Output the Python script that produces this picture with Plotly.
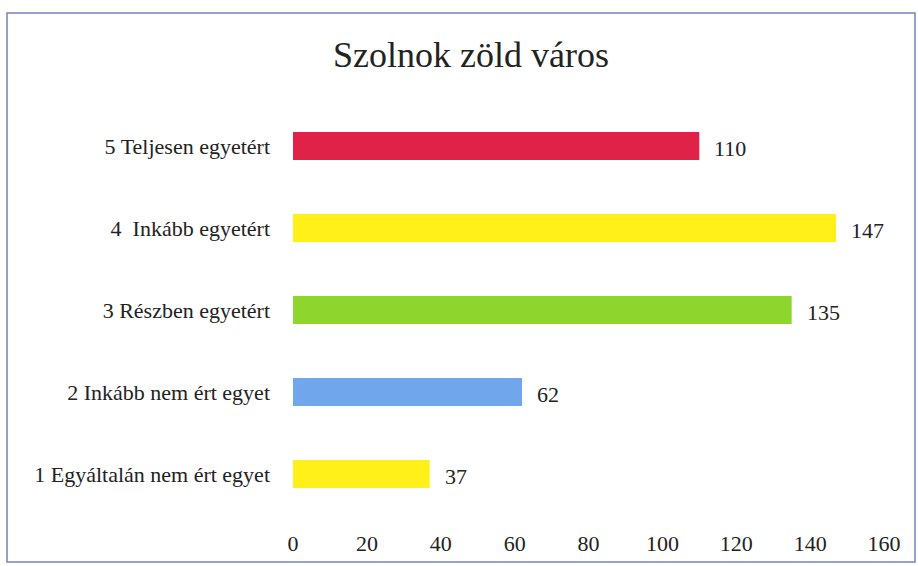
import plotly.graph_objects as go

categories = [
    "1 Egyáltalán nem ért egyet",
    "2 Inkább nem ért egyet",
    "3 Részben egyetért",
    "4\u00a0 Inkább egyetért",
    "5 Teljesen egyetért",
]
values = [37, 62, 135, 147, 110]
bar_colors = ["#FFF01A", "#6FA6EC", "#8ED62E", "#FFF01A", "#E02248"]
x_ticks = [0, 20, 40, 60, 80, 100, 120, 140, 160]
title_text = "Szolnok zöld város"

FONT = "Liberation Serif, Times New Roman, serif"
TXT = "#222222"
FS = 22

fig = go.Figure()
fig.add_trace(go.Bar(
    x=values, y=categories, orientation="h",
    marker=dict(color=bar_colors, line=dict(width=0)),
    hoverinfo="skip",
))

for v, c in zip(values, categories):
    fig.add_annotation(x=v, y=c, xref="x", yref="y", text=str(v),
                       showarrow=False, xanchor="left", xshift=13, yshift=-2,
                       font=dict(family=FONT, size=FS, color=TXT))

L, R, T, B = 293, 34, 105, 51
W, H = 918, 566
pw, ph = W - L - R, H - T - B

def px_x(p):
    return (p - L) / pw

def px_y(p):
    return (H - B - p) / ph

fig.add_shape(type="rect", xref="paper", yref="paper",
              x0=px_x(7), x1=px_x(915), y0=px_y(562), y1=px_y(13),
              line=dict(color="#7584B4", width=1.5), fillcolor="rgba(0,0,0,0)",
              layer="below")

fig.update_layout(
    width=W, height=H,
    margin=dict(l=L, r=R, t=T, b=B, autoexpand=False),
    paper_bgcolor="white", plot_bgcolor="white",
    bargap=0.66,
    showlegend=False,
    title=dict(text=title_text, x=471 / W, xanchor="center",
               y=1 - 54 / H, yanchor="middle",
               font=dict(family=FONT, size=36, color=TXT)),
    font=dict(family=FONT, size=FS, color=TXT),
)
fig.update_xaxes(range=[0, 160], tickvals=x_ticks, showgrid=False, zeroline=False,
                 showline=False, ticks="", ticklabelstandoff=13, automargin=False,
                 tickfont=dict(family=FONT, size=FS, color=TXT), fixedrange=True)
fig.update_yaxes(categoryorder="array", categoryarray=categories, showgrid=False,
                 zeroline=False, showline=False, ticks="", ticklabelstandoff=22,
                 automargin=False,
                 tickfont=dict(family=FONT, size=FS, color=TXT), fixedrange=True)

fig.write_html("out.html", config={"displayModeBar": False},
               post_script="document.body.style.margin='0';")
